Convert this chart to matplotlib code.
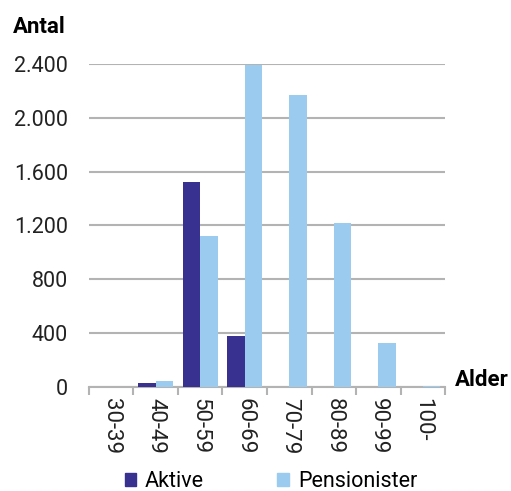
import numpy as np
import matplotlib.pyplot as plt
from matplotlib.patches import Patch

categories = ["30-39", "40-49", "50-59", "60-69", "70-79", "80-89", "90-99", "100-"]
aktive = [0, 30, 1520, 375, 0, 0, 0, 0]
pensionister = [0, 45, 1120, 2390, 2170, 1220, 325, 5]
yticks = [0, 400, 800, 1200, 1600, 2000, 2400]
ytick_labels = ["0", "400", "800", "1.200", "1.600", "2.000", "2.400"]

dark = "#38318f"
light = "#9bcbee"
grid_col = "#b3b3b3"
txt = "#222222"

plt.rcParams['font.family'] = ['Roboto', 'DejaVu Sans']

fig = plt.figure(figsize=(5.11, 4.91), dpi=100)
ax = fig.add_axes([0.174, 0.212, 0.697, 0.658])

x = np.arange(len(categories))
w = 0.39
ax.bar(x - w / 2, aktive, w, color=dark, zorder=3)
ax.bar(x + w / 2, pensionister, w, color=light, zorder=3)

ax.set_xlim(-0.5, len(categories) - 0.5)
ax.set_ylim(0, 2400)
ax.set_yticks(yticks)
ax.set_yticklabels(ytick_labels, fontsize=15.5, color=txt)
ax.yaxis.grid(True, color=grid_col, linewidth=1.5, zorder=0)
ax.tick_params(axis='y', length=0, pad=15)

# category labels sit between boundary ticks
ax.set_xticks(x)
ax.set_xticklabels(categories, rotation=-90, fontsize=16, color=txt)
ax.tick_params(axis='x', length=0, pad=8)
ax.set_xticks(np.arange(len(categories) + 1) - 0.5, minor=True)
ax.tick_params(axis='x', which='minor', length=6, width=1.5, color=grid_col, direction='out')

for s in ['top', 'right', 'left']:
    ax.spines[s].set_visible(False)
ax.spines['bottom'].set_color(grid_col)
ax.spines['bottom'].set_linewidth(1.5)

fig.text(0.025, 0.945, "Antal", fontsize=16, fontweight='bold', ha='left', va='center')
fig.text(0.890, 0.226, "Alder", fontsize=16, fontweight='bold', ha='left', va='center')

handles = [Patch(color=dark, label="Aktive"), Patch(color=light, label="Pensionister")]
fig.legend(handles=handles, loc='center', bbox_to_anchor=(0.53, 0.02), ncol=2,
           frameon=False, fontsize=15.5, handlelength=0.55, handleheight=0.55,
           columnspacing=3.4, handletextpad=0.4, borderpad=0)

fig.savefig("out.png", dpi=100)
